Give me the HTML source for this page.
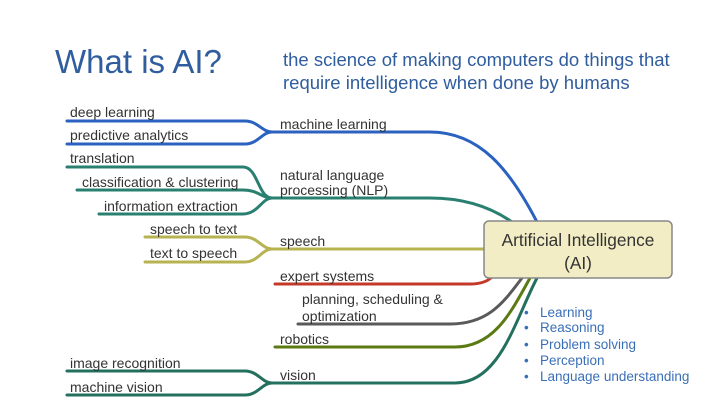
<!DOCTYPE html>
<html><head><meta charset="utf-8"><style>
body{margin:0;width:720px;height:405px;background:#fff;overflow:hidden}
svg{display:block}
text{font-family:"Liberation Sans",sans-serif}
</style></head><body>
<svg width="720" height="405" viewBox="0 0 720 405">
<text x="55" y="73" font-size="33" fill="#2f5d9e">What is AI?</text>
<text x="283" y="66" font-size="18.5" fill="#2f5d9e">the science of making computers do things that</text>
<text x="283" y="89" font-size="18.5" fill="#2f5d9e">require intelligence when done by humans</text>
<g fill="none" stroke-width="3" stroke-linecap="round">
<g stroke="#2b62c0">
<path d="M67 121 H245 C258 121 262 132 272 132"/>
<path d="M67 144 H245 C258 144 262 132 272 132"/>
<path d="M272 132 H430 C480 132 510 170 537 222"/>
</g>
<g stroke="#2a8070">
<path d="M67 167 H243 C258 167 258 198 272 198"/>
<path d="M77 190 H243 C258 190 262 198 272 198"/>
<path d="M99 214 H243 C258 214 262 198 272 198"/>
<path d="M272 198 H430 C470 198 495 210 512 222"/>
</g>
<g stroke="#b8b352">
<path d="M145 237 H245 C258 237 262 249 272 249"/>
<path d="M145 262 H245 C258 262 262 249 272 249"/>
<path d="M272 249 H486"/>
</g>
<path stroke="#c43a2a" d="M275 284 H470 C482 284 488 281 492 277"/>
<path stroke="#5a5a5a" d="M298 324 H450 C490 324 505 300 522 278"/>
<path stroke="#5b7a12" d="M275 347 H455 C495 347 512 310 530 278"/>
<g stroke="#24705f">
<path d="M67 371 H245 C258 371 262 383 272 383"/>
<path d="M67 395 H245 C258 395 262 383 272 383"/>
<path d="M272 383 H455 C500 383 515 320 537 278"/>
</g>
</g>
<rect x="484" y="221" width="188" height="57" rx="5" fill="#f2edc4" stroke="#888" stroke-width="1.5"/>
<text x="578" y="246" font-size="17.3" fill="#333" text-anchor="middle">Artificial Intelligence</text>
<text x="578" y="269" font-size="17.3" fill="#333" text-anchor="middle">(AI)</text>
<g font-size="14" fill="#333">
<text x="70" y="117">deep learning</text>
<text x="70" y="140">predictive analytics</text>
<text x="70" y="163">translation</text>
<text x="82" y="187">classification &amp; clustering</text>
<text x="104" y="211">information extraction</text>
<text x="150" y="234">speech to text</text>
<text x="150" y="258">text to speech</text>
<text x="280" y="129">machine learning</text>
<text x="280" y="180">natural language</text>
<text x="280" y="195">processing (NLP)</text>
<text x="280" y="246">speech</text>
<text x="280" y="281">expert systems</text>
<text x="302" y="304">planning, scheduling &amp;</text>
<text x="302" y="321">optimization</text>
<text x="280" y="344">robotics</text>
<text x="70" y="368">image recognition</text>
<text x="70" y="392">machine vision</text>
<text x="280" y="380">vision</text>
</g>
<g font-size="13.5" fill="#3a6fb8">
<text x="524" y="317">•</text><text x="540" y="317">Learning</text>
<text x="524" y="332">•</text><text x="540" y="332">Reasoning</text>
<text x="524" y="349">•</text><text x="540" y="349">Problem solving</text>
<text x="524" y="365">•</text><text x="540" y="365">Perception</text>
<text x="524" y="381">•</text><text x="540" y="381">Language understanding</text>
</g>
</svg>
</body></html>
